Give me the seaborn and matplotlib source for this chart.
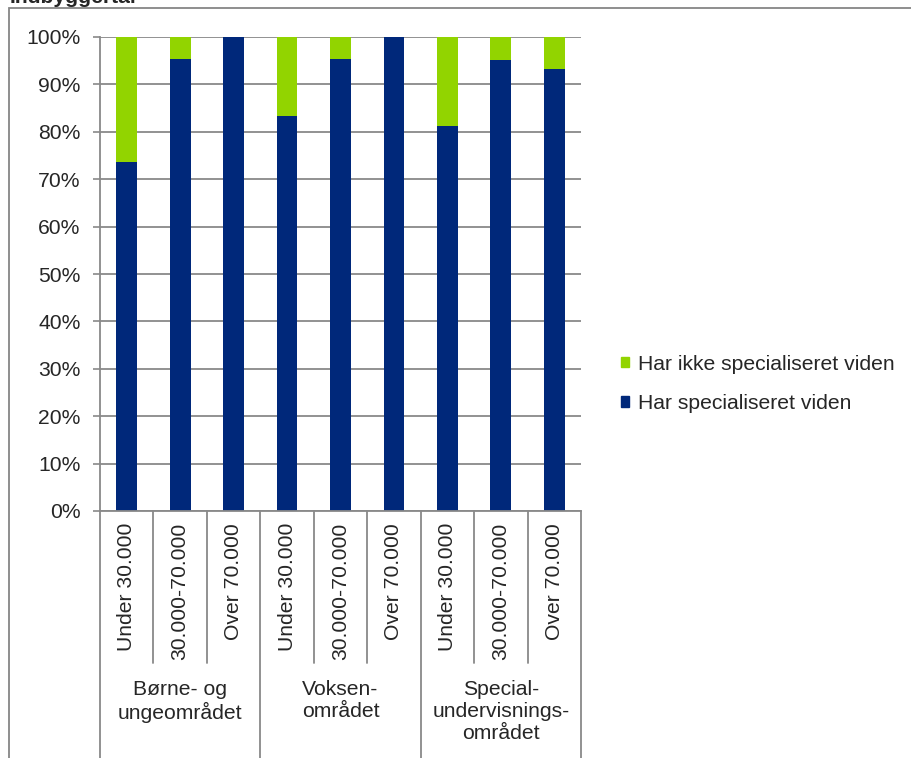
import matplotlib
matplotlib.use("Agg")
import matplotlib.pyplot as plt
import matplotlib.patches as mpatches
import seaborn as sns
import pandas as pd

# ---- data ----
groups = ["Børne- og\nungeområdet", "Voksen-\nområdet", "Special-\nundervisnings-\nområdet"]
sizes = ["Under 30.000", "30.000-70.000", "Over 70.000"]
har_viden = [73.7, 95.4, 100.0, 83.3, 95.4, 100.0, 81.2, 95.1, 93.3]
har_ikke_viden = [26.3, 4.6, 0.0, 16.7, 4.6, 0.0, 18.8, 4.9, 6.7]
series_labels = ["Har ikke specialiseret viden", "Har specialiseret viden"]
title = "Indbyggertal"

GREEN = "#92D400"
BLUE = "#00287A"
GREY = "#898989"

sns.set_style("white")
plt.rcParams["font.family"] = ["Liberation Sans", "DejaVu Sans"]
FS = 15.2

keys = [f"{g}|{s}" for g in range(len(groups)) for s in sizes]
tick_labels = [s for _ in groups for s in sizes]
df = pd.DataFrame({
    "key": keys,
    "har": har_viden,
    "total": [a + b for a, b in zip(har_viden, har_ikke_viden)],
})

W, H = 912, 758
fig = plt.figure(figsize=(W / 100, H / 100), dpi=100)
ax = fig.add_axes([100 / W, (H - 511) / H, (581 - 100) / W, (511 - 37) / H])

sns.barplot(data=df, x="key", y="total", order=keys, color=GREEN, saturation=1,
            width=0.39, linewidth=0, ax=ax, errorbar=None)
sns.barplot(data=df, x="key", y="har", order=keys, color=BLUE, saturation=1,
            width=0.39, linewidth=0, ax=ax, errorbar=None)

ax.set_xlim(-0.5, len(keys) - 0.5)
ax.set_ylim(0, 100)
ax.set_yticks(range(0, 101, 10))
ax.set_yticklabels([f"{v}%" for v in range(0, 101, 10)], fontsize=FS)
ax.set_xticks(range(len(keys)))
ax.set_xticklabels(tick_labels, rotation=90, fontsize=FS, va="top", ha="center")
ax.set_xlabel("")
ax.set_ylabel("")
ax.tick_params(axis="x", length=0, pad=8.6)
ax.tick_params(axis="y", length=5, width=1.2, color=GREY, pad=9, left=True)

ax.yaxis.grid(True, color=GREY, lw=1.3)
ax.set_axisbelow(True)
for s in ["top", "right"]:
    ax.spines[s].set_visible(False)
for s in ["left", "bottom"]:
    ax.spines[s].set_color(GREY)
    ax.spines[s].set_linewidth(1.3)

# category separators below axis
inner_depth = -(663 - 511) / 474
outer_depth = -(H + 5 - 511) / 474
trans = ax.get_xaxis_transform()
for i in range(len(keys) + 1):
    xb = i - 0.5
    depth = outer_depth if i % 3 == 0 else inner_depth
    ax.plot([xb, xb], [0, depth], color=GREY, lw=1.3, transform=trans, clip_on=False)

# group labels
for gi, g in enumerate(groups):
    ax.text(gi * 3 + 1, -(680 - 511) / 474, g, transform=trans, ha="center", va="top",
            fontsize=FS, linespacing=1.2)

# legend
handles = [mpatches.Patch(color=GREEN, label=series_labels[0]),
           mpatches.Patch(color=BLUE, label=series_labels[1])]
fig.legend(handles=handles, loc="upper left", bbox_to_anchor=(621 / W, 1 - 355 / H),
           frameon=False, fontsize=FS, handlelength=0.36, handleheight=0.36,
           handletextpad=0.45, labelspacing=0.95, borderpad=0, borderaxespad=0)

# outer chart frame
fig.patches.append(mpatches.Rectangle((9 / W, -0.1), 1.2, 1.1 - 8 / H, transform=fig.transFigure,
                                      fill=False, edgecolor="#868686", lw=1.3))
# cut-off title (cropped at the top edge as in the reference)
fig.text(10 / W, 1 - 3 / H, title, fontsize=FS, fontweight="bold", va="baseline", ha="left")

fig.savefig("out.png", dpi=100)
